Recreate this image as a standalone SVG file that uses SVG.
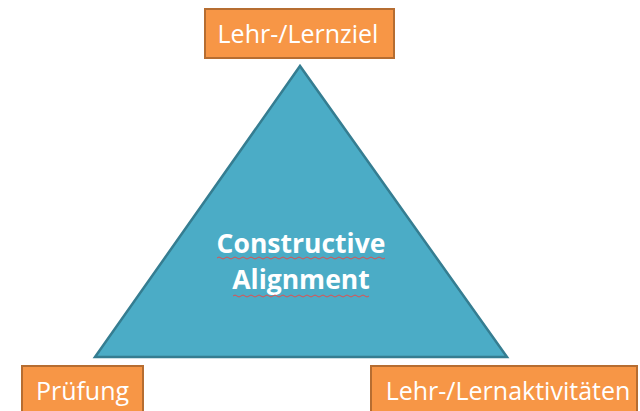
<svg xmlns="http://www.w3.org/2000/svg" width="640" height="411" viewBox="0 0 640 411">
<style>
.box{fill:#F79646;stroke:#B66D31;stroke-width:2}
.lbl{font-family:"Open Sans","Liberation Sans",sans-serif;font-size:25px;fill:#ffffff}
.ctr{font-family:"Open Sans","Liberation Sans",sans-serif;font-size:26.5px;font-weight:bold;fill:#ffffff;text-anchor:middle}
.wave{fill:none;stroke:#E05050;stroke-width:1}
</style>
<rect width="640" height="411" fill="#ffffff"/>
<g id="triangle">
<polygon points="300,66 95,357 507,357" fill="#4BACC6" stroke="#357D91" stroke-width="2.5" stroke-linejoin="miter"/>
<text class="ctr" x="301" y="253">Constructive</text>
<text class="ctr" x="301" y="289">Alignment</text>
<path class="wave" d="M217,258 q2,-2 4,0 t4,0 t4,0 t4,0 t4,0 t4,0 t4,0 t4,0 t4,0 t4,0 t4,0 t4,0 t4,0 t4,0 t4,0 t4,0 t4,0 t4,0 t4,0 t4,0 t4,0 t4,0 t4,0 t4,0 t4,0 t4,0 t4,0 t4,0 t4,0 t4,0 t4,0 t4,0 t4,0 t4,0 t4,0 t4,0 t4,0 t4,0 t4,0 t4,0 t4,0 t4,0"/>
<path class="wave" d="M233,296 q2,-2 4,0 t4,0 t4,0 t4,0 t4,0 t4,0 t4,0 t4,0 t4,0 t4,0 t4,0 t4,0 t4,0 t4,0 t4,0 t4,0 t4,0 t4,0 t4,0 t4,0 t4,0 t4,0 t4,0 t4,0 t4,0 t4,0 t4,0 t4,0 t4,0 t4,0 t4,0 t4,0 t4,0 t4,0"/>
</g>
<g id="lernziel">
<rect class="box" x="205" y="9" width="189" height="49"/>
<text class="lbl" x="298" y="43" text-anchor="middle">Lehr-/Lernziel</text>
</g>
<g id="pruefung">
<rect class="box" x="22" y="366" width="121" height="50"/>
<text class="lbl" x="82.5" y="400" text-anchor="middle">Prüfung</text>
</g>
<g id="lernaktivitaeten">
<rect class="box" x="371" y="366" width="266" height="50"/>
<text class="lbl" x="508" y="400" text-anchor="middle">Lehr-/Lernaktivitäten</text>
</g>
</svg>
